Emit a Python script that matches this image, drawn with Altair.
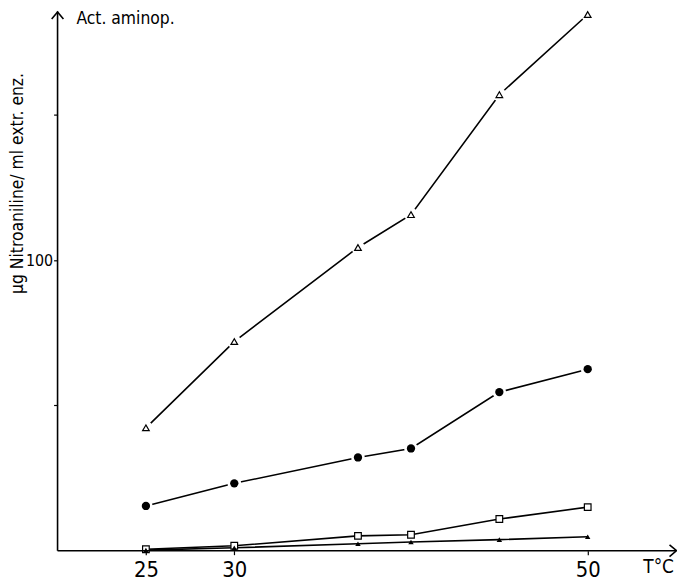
import altair as alt
import pandas as pd

temps = [25, 30, 37, 40, 45, 50]
open_tri = [42.3, 72.0, 104.4, 115.7, 157.0, 184.6]
filled_circ = [15.4, 23.2, 32.1, 35.2, 54.6, 62.5]
open_sq = [0.5, 1.7, 5.1, 5.5, 10.9, 15.0]
filled_tri = [0.2, 1.0, 2.4, 3.0, 3.8, 4.8]

x_ticks = [25, 30, 50]
y_ticks = [50, 100, 150]

FONT = "DejaVu Sans Condensed, Liberation Sans Narrow, sans-serif"
W, H = 625, 541

rows = []
for name, vals in [("open_tri", open_tri), ("filled_circ", filled_circ),
                   ("open_sq", open_sq), ("filled_tri", filled_tri)]:
    for t, v in zip(temps, vals):
        rows.append({"series": name, "T": t, "v": v})
df = pd.DataFrame(rows)

xs = alt.Scale(domain=[20, 20 + W / 17.83], nice=False, zero=False)
ys = alt.Scale(domain=[0, 184.6], nice=False, zero=False)

x_enc = alt.X("T:Q", scale=xs, axis=alt.Axis(
    values=x_ticks, title=None, domain=False, grid=False, tickColor="black",
    tickSize=4, tickWidth=1.2, labelFont=FONT, labelFontSize=22,
    labelColor="black", labelPadding=5, labelFlush=False))
y_enc = alt.Y("v:Q", scale=ys, axis=alt.Axis(
    values=y_ticks, domain=False, grid=False, tickColor="black", tickSize=4,
    tickWidth=1.2, labelFont=FONT, labelFontSize=16, labelColor="black",
    labelExpr="datum.value == 100 ? '100' : ''", labelPadding=1,
    title="µg Nitroaniline/ ml extr. enz.", titleFont=FONT, titleFontSize=17.5,
    titleFontWeight="normal", titleColor="black", titleAngle=-90,
    titleX=-40, titleY=170, titleAlign="center", titleBaseline="middle"))

base = alt.Chart(df)

lines = base.mark_line(color="black", strokeWidth=1.6).encode(
    x=x_enc, y=y_enc, detail="series:N")

halo = base.transform_filter(
    alt.FieldOneOfPredicate(field="series", oneOf=["open_tri", "filled_circ"])
).mark_point(shape="circle", filled=True, color="white", opacity=1, size=190).encode(
    x="T:Q", y="v:Q")

m_open_tri = base.transform_filter(alt.datum.series == "open_tri").mark_point(
    shape="triangle-up", filled=False, fill="white", stroke="black",
    strokeWidth=1.2, size=45, opacity=1).encode(x="T:Q", y="v:Q")
m_circ = base.transform_filter(alt.datum.series == "filled_circ").mark_point(
    shape="circle", filled=True, color="black", size=70, opacity=1).encode(
    x="T:Q", y="v:Q")
m_sq = base.transform_filter(alt.datum.series == "open_sq").mark_point(
    shape="square", filled=False, fill="white", stroke="black",
    strokeWidth=1.2, size=45, opacity=1).encode(x="T:Q", y="v:Q")
m_ftri = base.transform_filter(alt.datum.series == "filled_tri").mark_point(
    shape="triangle-up", filled=True, color="black", size=30,
    opacity=1).encode(x="T:Q", y="v:Q")

one = pd.DataFrame({"k": [0]})
y_axis_line = alt.Chart(one).mark_rule(color="black", strokeWidth=1.6).encode(
    x=alt.value(0), y=alt.value(-3), y2=alt.value(H))
x_axis_line = alt.Chart(one).mark_rule(color="black", strokeWidth=1.6).encode(
    x=alt.value(0), x2=alt.value(W - 1), y=alt.value(H))
y_arrow = alt.Chart(one).mark_point(
    shape="M-1,0.6L0,-0.6L1,0.6", filled=False, stroke="black",
    strokeWidth=1.6, size=140, opacity=1).encode(x=alt.value(0), y=alt.value(1))
x_arrow = alt.Chart(one).mark_point(
    shape="M-0.6,-1L0.6,0L-0.6,1", filled=False, stroke="black",
    strokeWidth=1.6, size=140, opacity=1).encode(x=alt.value(W - 4), y=alt.value(H))

title_txt = alt.Chart(one).mark_text(
    text="Act. aminop.", font=FONT, fontSize=17.5, align="left",
    baseline="middle", color="black").encode(x=alt.value(19), y=alt.value(5))
t_txt = alt.Chart(one).mark_text(
    text="T°C", font=FONT, fontSize=19, align="left",
    baseline="middle", color="black").encode(x=alt.value(591), y=alt.value(558))

chart = alt.layer(
    lines, halo, m_open_tri, m_circ, m_sq, m_ftri,
    y_axis_line, x_axis_line, y_arrow, x_arrow, title_txt, t_txt
).properties(
    width=W, height=H,
    autosize=alt.AutoSizeParams(type="none"),
    padding={"left": 50, "top": 4, "right": 0, "bottom": 28},
    background="white"
).configure_view(stroke=None)

chart.save("out.html", embed_options={"renderer": "svg", "actions": False})
